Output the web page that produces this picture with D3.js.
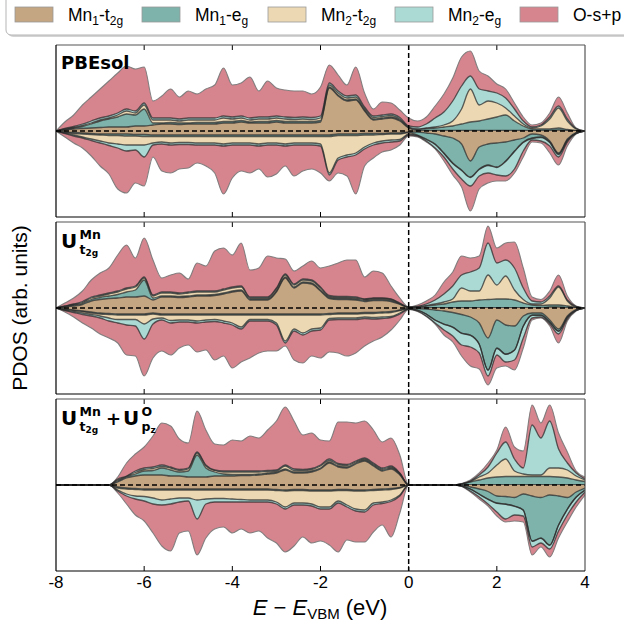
<!DOCTYPE html>
<html lang="en">
<head>
<meta charset="utf-8">
<script src="https://cdn.jsdelivr.net/npm/d3@7"></script>
<style>
  body { margin: 0; background: #fff; }
  text { font-family: "Liberation Sans", Arial, sans-serif; }
  .plabel { font-family: "DejaVu Sans", sans-serif; font-weight: bold; }
</style>
<title>PDOS</title>
</head>
<body>
<div id="chart"></div>
<script>
// energy grid (eV, relative to VBM)
const energy = [-8.0,-7.8,-7.6,-7.4,-7.2,-7.0,-6.8,-6.6,-6.4,-6.2,-6.0,-5.8,-5.6,-5.4,-5.2,-5.0,-4.8,-4.6,-4.4,-4.2,
  -4.0,-3.8,-3.6,-3.4,-3.2,-3.0,-2.8,-2.6,-2.4,-2.2,-2.0,-1.8,-1.6,-1.4,-1.2,-1.0,-0.8,-0.6,-0.4,-0.2,
  0.0,0.2,0.4,0.6,0.8,1.0,1.2,1.4,1.6,1.8,2.0,2.2,2.4,2.6,2.8,3.0,3.2,3.4,3.6,3.8,4.0];

const species = ["Mn1-t2g", "Mn1-eg", "Mn2-t2g", "Mn2-eg", "O-s+p"];
const fills = ["#c4a683", "#7db3ab", "#ecd9b3", "#abdad5", "#d6858f"];
const xTicks = [-8, -6, -4, -2, 0, 2, 4];

// PBEsol, spin up
const pbeUpMn1t2g = [0,1,2,2.5,3,3.5,4,4,4,5,5, 6,7,7,6.5,7,7,7,7,8,8, 9,8,8,8,9,8,8,8,8,9, 43,35,30,31,20,11,12,13,10,3, 0.5,0.5,0.5,0.5,0.5,0.5,0.5,0.5,0.5,0.5, 0.5,0.5,0.5,0.5,0.5,0.5,1,0.5,0.3,0];
const pbeUpMn1eg = [0,0.5,1,2,4,6.5,8,10,13,11,17, 2,1,1.5,1.5,1,1.5,1.5,1.5,1.5,1.5, 1.5,1,1.5,1.5,1.5,1.5,1.5,1.5,1.5,1.5, 1,1,1,1,1,1,1,1,1,0.5, 1,2,2.5,3.5,4.5,6.5,8.5,9.5,11.5,13.5, 15.5,9.5,4.5,1.5,1.5,1.5,2,1,0.2,0];
const pbeUpMn2t2g = [0,0.5,0.5,1,1,1,1,2,3,2,4, 3,3,2.5,2,3,2.5,2.5,2.5,3.5,2.5, 2.5,2,2.5,2.5,2.5,2.5,2,2.5,2,2.5, 2,2,2,2,1.5,1.5,1.5,1.5,1,0.5, 0.5,0.5,1,2,5,15,33,16,18,14, 7,5,2,1,3,10,20,8.5,1.5,0];
const pbeUpMn2eg = [0,0.5,1,1.5,2,2,2,2,2,2,2, 2,2,2,2,2,2,2,2,2,2, 2,2,2,2,2,2,2,2,2,2, 2,2,2,2,1.5,1.5,1.5,1.5,1.5,1, 2,4,9,13,20,23,13,16,10,10, 10,7,3,1,1,2,2,2,0.5,0];
const pbeUpO = [0,6.5,11.5,19,24,29,35,40,43,42,36, 17,22,29,22,27,24,29,33,48,32, 33,41,26,36,28,27,26.5,26,23.5,29, 18,16,11,28,14,7,13,11,7.5,8, 6,7,12,18,23,29,25,18,15,9, 9,6,4,2,2,4,9,6,0.5,0];

// PBEsol, spin down
const pbeDnMn1t2g = [0,1,1.5,2,2.5,3,3,3,3,3.5,3.5, 4,4,4,4,4,4,4,4,4,4, 4,4,4,4,4,4,4,4,4,4, 4,3,3,3,2.5,2.5,2.5,2,2,1, 1,2,3,5,7,13,30,16,13,12, 11,9,7,3,4,10,22,8,1.5,0];
const pbeDnMn1eg = [0,0.5,1,1,1,1,1.5,1.5,2,1.5,2, 1.5,1.5,1.5,1.5,1.5,1.5,1.5,1.5,1.5,1.5, 1.5,1.5,1.5,1.5,1.5,1.5,1.5,1.5,1.5,1.5, 1.5,1.5,1.5,1.5,1.5,1.5,1,1,1,0.5, 3,6,10,17,25,26,16,22,21,24, 19,11,4,4,2,1,1,1,0.5,0];
const pbeDnMn2t2g = [0,0.5,1.5,3,4.5,6,7.5,8.5,9,9,8.5, 6.5,5.5,6.5,6,6,6.5,6.5,6.5,7.5,6.5, 6.5,6.5,7.5,6.5,6.5,7.5,6.5,6.5,6.5,7.5, 36.5,22.5,19.5,17.5,12,8,6.5,6,5.5,1.5, 0.5,0.5,0.5,0.5,0.5,0.5,0.5,0.5,0.5,0.5, 0.5,0.5,0.5,0.5,0.5,0.5,0.5,0.5,0.2,0];
const pbeDnMn2eg = [0,0.5,1,1,1.5,2,2.5,4,6,5,12, 2,2,2,2,2,2,2,2,2,2, 2,2,2,2,2,2,2,2,2,2, 2,2,2,2,2,2,2,2,1.5,1, 0.5,1.5,3.5,3.5,5.5,8.5,8.5,6.5,7.5,7.5, 14.5,17.5,8.5,1.5,3.5,3.5,2.5,1.5,0.3,0];
const pbeDnO = [0,3.5,7,10,15.5,23,28.5,41,42,33,29, 12,27,28,24.5,23.5,18,21,28,48,33, 26,28,23,32,29,20,31,26,24,27, 6,13,19,39,17,13,9,8,4,1, 1,1,1,4,6,8,25,13,10,6, 5,4,6,2,2,7,8,4,0.5,0];

// U(Mn t2g), spin up
const umUpMn1t2g = [0,1,2,3.5,7,8.5,9.5,10,11,11,12, 8,11,11,10.5,11,12,12,12.5,14,16, 17,8,8,8,16,30,20,25,24,17, 9.5,8.5,8.5,8,6.5,7.5,7.5,6.5,3.5,0.4, 0.3,0.3,0.3,0.3,0.3,0.3,0.3,0.3,0.3,0.3, 0.3,0.3,0.3,0.3,0.3,1,1,0.5,0.3,0];
const umUpMn1eg = [0,0.5,1,1,1.5,2,2.5,3.5,5,7,16, 2,1,1,1,1,1,1,1,1,1, 1,1,1,1,1,1,1,1,1,1, 1,1,1,1,1,1,1,1,0.5,0.2, 0.7,1.7,2.7,3.7,5.7,6.7,6.7,7.7,8.2,8.7, 8.7,7.7,4.7,2.7,2.2,2,2,1.5,0.2,0];
const umUpMn2t2g = [0,0.2,0.5,1,1.5,1.5,2,2.5,3,3,2, 2,3,3,2.5,3,3,3,2.5,3,3, 3,1,1,1,2,2,2,2,2,2, 1,1,1,1,1,1,1,1,0.5,0.1, 0.2,0.5,1,2,3,13,10,9,24.5,14, 23,10,3.5,1,1.5,7,18,5,0.5,0];
const umUpMn2eg = [0,0.3,0.5,1,1,1,1,1,1,1,1, 1,1,1,1,1,1,1,1,1,1, 1,1,1,1,1,1,1,1,1,1, 1,1,1,1,0.5,0.5,0.5,0.5,0.5,0.1, 0.3,1.5,4,8,13,13,19,23,32,22, 16,22,11.5,3,2,2,1,1,0.5,0];
const umUpO = [0,3,6,10.5,17,22,25,36,43,28,39, 35,14,17,20,13,28,25,40,41,32, 43,27,29,41,30,15,13,13,19,19, 29.5,33.5,36.5,37,22,27,25,13,5,0.2, 1.5,3,5,12,14,19,14,12,17,15, 17,26,20,4,2.5,5,11,4,0.5,0];

// U(Mn t2g), spin down
const umDnMn1t2g = [0,1,2,3,4,5,5.5,6,6,6,6, 5,6,6,6,6,6,6,6,6,6, 6,6,6,6,6,6,6,6,6,6, 5.5,5,5,5,4.5,4.5,4,3.5,2,0.5, 0.5,1,2,3,4.5,6.5,9,15,30,12, 17,18,8,5,5,12,21,8,1.5,0];
const umDnMn1eg = [0,0.5,0.5,0.5,1,1,1,1,1,1,1, 1,1,1,1,1,1,1,1,1,1, 1,1,1,1,1,1,1,1,1,1, 1,1,1,1,1,1,1,1,0.5,0.2, 1.5,5,10,13,14.5,18.5,18,21,32,28, 29,24,10,2,2,2,2,1,0.5,0];
const umDnMn2t2g = [0,0.5,1,1.5,1.5,2,3.5,4.5,4.5,4.5,9, 5,3,5.5,5,5,6,5,4.5,6,8, 12,4.5,4.5,4.5,8,26,14,18,14,13, 4,4,4,4,3.5,4,4,4,2.5,0.3, 0.3,0.3,0.3,0.3,0.3,0.3,0.3,0.3,0.3,0.3, 0.3,0.3,0.3,0.3,0.3,0.3,0.3,0.3,0.2,0];
const umDnMn2eg = [0,0.5,1,1.5,1.5,2,3,3.5,5.5,6.5,15, 5,2,2.5,2,2,2,2,2,2,2, 2,1.5,1.5,1.5,2,2,2,2,2,2, 1.5,1.5,1.5,1.5,1.5,1.5,1.5,1,1,0.2, 0.7,1.7,2.7,5.7,8.7,11.7,11.7,8.7,5.7,6.7, 7.7,9.7,11.7,2.7,1.7,1.7,2.7,1.7,0.3,0];
const umDnO = [0,1.5,4.5,8.5,12,16,17,20,30,30,37, 34,31,32,26,23,29,28,38.5,33,43, 33,37,32,30,26,3,29,28,25,28, 32,33.5,36.5,33.5,27.5,22,18.5,12.5,6,0.3, 0.5,0.5,1,5,6,11,19,16,9,13, 4,10,10,2,1,2,9,2,0.5,0];

// U(Mn t2g) + U(O pz), spin up
const uoUpMn1t2g = [0,0,0,0,0,0,0,3,7,9,10, 10,10,9,9,8,8,8,9,9,9, 9.5,9.5,10,11,12,15,12,12,13,16, 22,18,17,21,24,19,14,16,10,0, 0,0,0,0,0,0.2,0.3,0.3,0.3,0.3, 0.3,0.3,0.3,0.3,0.3,0.3,0.3,0.3,0.3,0.3];
const uoUpMn1eg = [0,0,0,0,0,0,0,1,1,2,4, 4.5,7,6,4,6,22,9,4,2,1.5, 1,1,1,1,1,1,1,1,1,1, 1,1,1,1,1,1,1,1,1,0, 0,0,0,0,0,0.6,2.7,4.7,6.7,7.7, 8.2,8.2,8.2,8.2,8.2,8.2,7.7,6.7,4.7,3.2];
const uoUpMn2t2g = [0,0,0,0,0,0,0,1,0.5,1.5,1.5, 2,1.5,2,1.5,2,2,2,1.5,2,2.5, 2.5,2.5,2,1.5,1,3,1.5,1.5,1.5,2, 1.5,1.5,1.5,1,1,1,1,1,0.5,0, 0,0,0,0,0,0.2,0.5,3,5,12, 17.5,5.5,2.5,1.5,1.5,8.5,9,8,4,1.5];
const uoUpMn2eg = [0,0,0,0,0,0,0,1,0.5,1.5,1.5, 1.5,1.5,1,1,1,1,1,0.5,1,1, 1,1,1,1,1,1,1.5,1,1,1, 1.5,1,1,1,1,1,1,1,0.5,0, 0,0,0,0,0,0.2,0.5,2,6,12, 17,12,6,50,37,47,19,7,3,1];
const uoUpO = [0,0,0,0,0,0,0,2,13,17,21, 31,42,41,30.5,25,41,35,26,26,31, 30,35,33,40.5,49,58,48,34.5,35.5,25, 18,41.5,42.5,38,37,33,26,28,18,0, 0,0,0,0,0,0.3,1,2,4,3, 15,12,17,20,15,16,16,11,2,2];

// U(Mn t2g) + U(O pz), spin down
const uoDnMn1t2g = [0,0,0,0,0,0,0,2,3,3.5,4, 4,4,4,4,4,4,4,4,4,4, 4,4,4,4,4.5,5,4.5,4.5,5,5, 5,4.5,4.5,5,5,4.5,4,3.5,2.5,0, 0,0,0,0,0,0.3,2,4,6.5,11, 11.5,12.5,9,11,12.5,10,11,12.5,7,3];
const uoDnMn1eg = [0,0,0,0,0,0,0,1,1,1,1, 1,1,1,1,1,1,1,1,1,1, 1,1,1,1,1,1,1,1,1,1, 1,1,1,1,1,1,1,1,0.5,0, 0,0,0,0,0,0.5,2,5,7.5,7, 7.5,8.5,16,45,40.5,50,29,11.5,5,2];
const uoDnMn2t2g = [0,0,0,0,0,0,0,2,5,6.5,6.5, 8,10,9,8,8,10,9,8.5,8.5,9, 9.5,10,10,10,11.5,16,12.5,12.5,13,16, 16,10.5,14.5,18,19,12.5,12,10.5,7,0, 0,0,0,0,0,0.1,0.2,0.3,0.3,0.3, 0.3,0.3,0.3,0.3,0.3,0.3,0.3,0.3,0.3,0.2];
const uoDnMn2eg = [0,0,0,0,0,0,0,1,2,3,4.5, 6,5,5,4,3,19,5,3.5,3.5,3, 2.5,2,2,2,2,2,2,2,2,2, 2,2,2,2,2,2,1.5,1.5,1,0, 0,0,0,0,0,0.3,1.8,2.7,4.7,8.7, 14.7,8.7,5.7,5.7,4.7,3.7,5.7,5.7,4.7,1.8];
const uoDnO = [0,0,0,0,0,0,0,2,8,16,20, 29,41,47,31,30,36,34,27,25,31, 27,31,29,36,39,43,41,32,37,32, 36,49,33,31,30,27,21.5,35.5,17,0, 0,0,0,0,0,0.3,1,2,2,4, 3,6,6,8,4,8,7,7,5,3];

const panels = [
  {up: [pbeUpMn1t2g, pbeUpMn1eg, pbeUpMn2t2g, pbeUpMn2eg, pbeUpO],
   dn: [pbeDnMn1t2g, pbeDnMn1eg, pbeDnMn2t2g, pbeDnMn2eg, pbeDnO]},
  {up: [umUpMn1t2g, umUpMn1eg, umUpMn2t2g, umUpMn2eg, umUpO],
   dn: [umDnMn1t2g, umDnMn1eg, umDnMn2t2g, umDnMn2eg, umDnO]},
  {up: [uoUpMn1t2g, uoUpMn1eg, uoUpMn2t2g, uoUpMn2eg, uoUpO],
   dn: [uoDnMn1t2g, uoDnMn1eg, uoDnMn2t2g, uoDnMn2eg, uoDnO]}
];

const svg = d3.select("#chart").append("svg")
  .attr("width", 624).attr("height", 626)
  .style("display", "block");

const x = d3.scaleLinear().domain([-8, 4]).range([56, 585]);
const panelTops = [45, 222, 399];
const panelH = 172;

panels.forEach((p, pi) => {
  const top = panelTops[pi], bottom = top + panelH;
  const y = d3.scaleLinear().domain([-86, 86]).range([bottom, top]);

  svg.append("clipPath").attr("id", "clip" + pi)
    .append("rect")
      .attr("x", x(-8)).attr("y", top)
      .attr("width", x(4) - x(-8)).attr("height", panelH);

  const plot = svg.append("g").attr("clip-path", `url(#clip${pi})`);

  [["up", 1], ["dn", -1]].forEach(([spin, sign]) => {
    const rows = energy.map((e, i) => {
      const r = {e: e};
      species.forEach((k, j) => { r[k] = p[spin][j][i]; });
      return r;
    });
    const series = d3.stack().keys(species)(rows);

    const area = d3.area()
      .curve(d3.curveMonotoneX)
      .x(d => x(d.data.e))
      .y0(d => y(sign * d[0]))
      .y1(d => y(sign * d[1]));

    plot.append("g").selectAll("path")
      .data(series)
      .join("path")
        .attr("d", area)
        .attr("fill", (d, i) => fills[i]);

    const edge = d3.line()
      .curve(d3.curveMonotoneX)
      .x(d => x(d.data.e))
      .y(d => y(sign * d[1]));

    plot.append("g").selectAll("path")
      .data(series.slice().reverse())
      .join("path")
        .attr("d", edge)
        .attr("fill", "none")
        .attr("stroke", d => d.index === 4 ? "#777" : "#2a2a2a")
        .attr("stroke-opacity", d => d.index === 4 ? 0.9 : 0.75)
        .attr("stroke-width", d => d.index === 4 ? 1.1 : 1.3);
  });

  // zero lines
  plot.append("line")
    .attr("x1", x(-8)).attr("x2", x(4))
    .attr("y1", y(0)).attr("y2", y(0))
    .attr("stroke", "#000").attr("stroke-width", 1.5)
    .attr("stroke-dasharray", "5,3");
  svg.append("line")
    .attr("x1", x(0)).attr("x2", x(0))
    .attr("y1", top).attr("y2", bottom)
    .attr("stroke", "#000").attr("stroke-width", 1.5)
    .attr("stroke-dasharray", "5,3");

  // ticks (inward, top and bottom)
  xTicks.slice(1, -1).forEach(t => {
    svg.append("line").attr("x1", x(t)).attr("x2", x(t))
      .attr("y1", bottom).attr("y2", bottom - 5)
      .attr("stroke", "#000").attr("stroke-width", 1);
    svg.append("line").attr("x1", x(t)).attr("x2", x(t))
      .attr("y1", top).attr("y2", top + 5)
      .attr("stroke", "#000").attr("stroke-width", 1);
  });

  // frame
  svg.append("line").attr("x1", x(-8)).attr("x2", x(4)).attr("y1", top).attr("y2", top)
    .attr("stroke", "#555").attr("stroke-width", 1.2);
  svg.append("line").attr("x1", x(4)).attr("x2", x(4)).attr("y1", top).attr("y2", bottom)
    .attr("stroke", "#555").attr("stroke-width", 1.2);
  svg.append("line").attr("x1", x(-8)).attr("x2", x(4)).attr("y1", bottom).attr("y2", bottom)
    .attr("stroke", "#000").attr("stroke-width", 1.2);
  svg.append("line").attr("x1", x(-8)).attr("x2", x(-8)).attr("y1", top).attr("y2", bottom)
    .attr("stroke", "#000").attr("stroke-width", 1.2);

  if (pi === 2) {
    svg.append("g").selectAll("text")
      .data(xTicks)
      .join("text")
        .attr("x", d => x(d)).attr("y", bottom + 17)
        .attr("text-anchor", "middle")
        .style("font-size", "17px")
        .text(d => d);
  }
});

// panel labels
svg.append("text").attr("class", "plabel").attr("x", 61).attr("y", 69)
  .style("font-size", "18px").text("PBEsol");

function uLabel(x0, yb, sup, sub, subsub) {
  svg.append("text").attr("class", "plabel").attr("x", x0).attr("y", yb)
    .style("font-size", "20px").text("U");
  svg.append("text").attr("class", "plabel").attr("x", x0 + 18.5).attr("y", yb - 9)
    .style("font-size", "12.5px").text(sup);
  const s = svg.append("text").attr("class", "plabel").attr("x", x0 + 18.5).attr("y", yb + 6)
    .style("font-size", "12.5px");
  s.append("tspan").text(sub);
  s.append("tspan").attr("dy", 2).style("font-size", "9px").text(subsub);
}
uLabel(61, 248, "Mn", "t", "2g");
uLabel(61, 425, "Mn", "t", "2g");
svg.append("text").attr("class", "plabel").attr("x", 106).attr("y", 425)
  .style("font-size", "18px").text("+");
uLabel(123, 425, "O", "p", "z");

// axis titles
const xt = svg.append("text").attr("x", 320).attr("y", 615)
  .attr("text-anchor", "middle").style("font-size", "22px");
xt.append("tspan").style("font-style", "italic").text("E");
xt.append("tspan").text(" \u2212 ");
xt.append("tspan").style("font-style", "italic").text("E");
xt.append("tspan").attr("dy", 4).style("font-size", "15px").text("VBM");
xt.append("tspan").attr("dy", -4).text(" (eV)");

svg.append("text")
  .attr("transform", "translate(27,308) rotate(-90)")
  .attr("text-anchor", "middle")
  .style("font-size", "21px")
  .text("PDOS (arb. units)");

// legend
const legend = svg.append("g");
legend.append("rect").attr("x", 8).attr("y", -6).attr("width", 660).attr("height", 43)
  .attr("rx", 5).attr("fill", "#d4d4d4");
legend.append("rect").attr("x", 6).attr("y", -8).attr("width", 660).attr("height", 43)
  .attr("rx", 5).attr("fill", "#fff").attr("stroke", "#b5b5b5");

const legendX = [15, 142, 268, 395, 520];
const legendParts = [["Mn", "1", "-t", "2g"], ["Mn", "1", "-e", "g"], ["Mn", "2", "-t", "2g"], ["Mn", "2", "-e", "g"], ["O-s+p"]];
species.forEach((s, i) => {
  legend.append("rect").attr("x", legendX[i]).attr("y", 7).attr("width", 38).attr("height", 15)
    .attr("fill", fills[i]).attr("stroke", "#999").attr("stroke-width", 0.8);
  const t = legend.append("text").attr("x", legendX[i] + 53).attr("y", 21).style("font-size", "17.5px");
  const parts = legendParts[i];
  if (parts.length === 1) { t.text(parts[0]); return; }
  t.append("tspan").text(parts[0]);
  t.append("tspan").attr("dy", 4).style("font-size", "12px").text(parts[1]);
  t.append("tspan").attr("dy", -4).text(parts[2]);
  t.append("tspan").attr("dy", 4).style("font-size", "12px").text(parts[3]);
});
</script>
</body>
</html>
